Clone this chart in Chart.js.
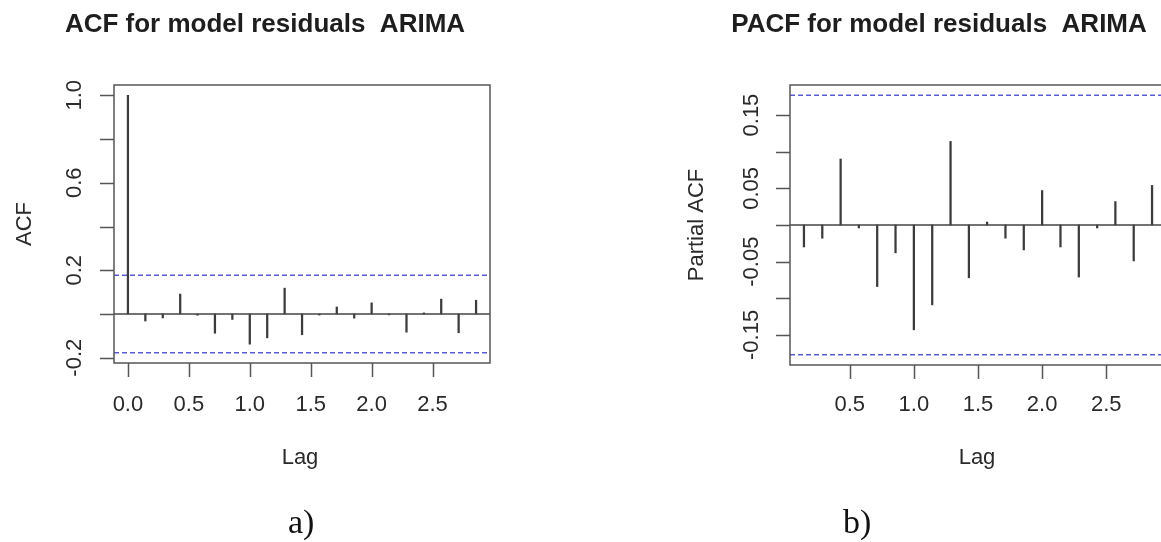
<!DOCTYPE html>
<html>
<head>
<meta charset="utf-8">
<script src="https://cdn.jsdelivr.net/npm/chart.js@4.4.0/dist/chart.umd.min.js"></script>
<style>
  html, body { margin: 0; padding: 0; background: #fff; overflow: hidden; width: 1161px; height: 542px; }
  canvas { position: absolute; top: 0; }
  #acf { left: 0; }
  #pacf { left: 580px; }
  .cap { position: absolute; font-family: "Liberation Serif", "Times New Roman", serif; font-size: 34px; line-height: 1; color: #111; }
</style>
</head>
<body>
<canvas id="acf" width="580" height="542"></canvas>
<canvas id="pacf" width="620" height="542"></canvas>
<div class="cap" style="left:288px; top:505px;">a)</div>
<div class="cap" style="left:843px; top:505px;">b)</div>

<script>
// Residual autocorrelations, lags in years (7 observations per unit)
const acfLags = [0.000, 0.143, 0.286, 0.429, 0.571, 0.714, 0.857, 1.000, 1.143, 1.286, 1.429,
                 1.571, 1.714, 1.857, 2.000, 2.143, 2.286, 2.429, 2.571, 2.714, 2.857];
const acfValues = [1.000, -0.032, -0.018, 0.091, -0.006, -0.088, -0.025, -0.138, -0.109, 0.118, -0.095,
                   -0.005, 0.032, -0.019, 0.051, -0.004, -0.083, 0.005, 0.068, -0.086, 0.063];

const pacfLags = [0.143, 0.286, 0.429, 0.571, 0.714, 0.857, 1.000, 1.143, 1.286, 1.429,
                  1.571, 1.714, 1.857, 2.000, 2.143, 2.286, 2.429, 2.571, 2.714, 2.857];
const pacfValues = [-0.030, -0.018, 0.090, -0.004, -0.084, -0.038, -0.143, -0.109, 0.114, -0.072,
                    0.004, -0.018, -0.034, 0.047, -0.030, -0.071, -0.004, 0.032, -0.049, 0.054];

// 95% white-noise bound
const ciBound = 0.177;

// Axis ticks and the labels printed on them
const acfYTicks = [-0.2, 0.0, 0.2, 0.4, 0.6, 0.8, 1.0];
const acfYLabels = ['-0.2', '0.2', '0.6', '1.0'];
const acfXLabels = ['0.0', '0.5', '1.0', '1.5', '2.0', '2.5'];
const pacfYTicks = [-0.15, -0.10, -0.05, 0.00, 0.05, 0.10, 0.15];
const pacfYLabels = ['-0.15', '-0.05', '0.05', '0.15'];
const pacfXLabels = ['0.5', '1.0', '1.5', '2.0', '2.5'];

const SANS = '"Liberation Sans", Arial, Helvetica, sans-serif';

// Draws the R-style frame: box, tick marks, rotated y labels, titles
const rFrame = {
  id: 'rFrame',
  afterDraw(chart, args, o) {
    const { ctx, chartArea: a } = chart;
    const xs = chart.scales.x, ys = chart.scales.y;
    ctx.save();
    ctx.strokeStyle = '#555';
    ctx.lineWidth = 1.5;
    ctx.strokeRect(a.left, a.top, a.right - a.left, a.bottom - a.top);

    ctx.beginPath();
    o.yTicks.forEach(v => {
      const py = Math.round(ys.getPixelForValue(v)) + 0.5;
      ctx.moveTo(a.left, py); ctx.lineTo(a.left - 14, py);
    });
    o.xLabels.forEach(l => {
      const px = Math.round(xs.getPixelForValue(parseFloat(l))) + 0.5;
      ctx.moveTo(px, a.bottom); ctx.lineTo(px, a.bottom + 14);
    });
    ctx.stroke();

    ctx.fillStyle = '#2a2a2a';
    ctx.font = '22px ' + SANS;
    ctx.textAlign = 'center';
    ctx.textBaseline = 'middle';
    o.xLabels.forEach(l => {
      ctx.fillText(l, xs.getPixelForValue(parseFloat(l)), a.bottom + o.xLabelGap);
    });
    ctx.fillText('Lag', (a.left + a.right) / 2 + o.xTitleShift, a.bottom + o.xTitleGap);

    o.yLabels.forEach(l => {
      ctx.save();
      ctx.translate(a.left - o.yLabelGap, ys.getPixelForValue(parseFloat(l)));
      ctx.rotate(-Math.PI / 2);
      ctx.fillText(l, 0, 0);
      ctx.restore();
    });
    ctx.save();
    ctx.translate(a.left - o.yTitleGap, (a.top + a.bottom) / 2);
    ctx.rotate(-Math.PI / 2);
    ctx.fillText(o.yTitle, 0, 0);
    ctx.restore();

    ctx.fillStyle = '#1e1e1e';
    ctx.font = 'bold 26px ' + SANS;
    ctx.fillText(o.title, (a.left + a.right) / 2 + o.titleShift, 25);
    ctx.restore();
  }
};

function correlogram(id, lags, values, xr, yr, pad, frame) {
  const edge = (y) => [{ x: xr[0], y }, { x: xr[1], y }];
  return new Chart(document.getElementById(id), {
    type: 'bar',
    data: {
      datasets: [
        { type: 'line', data: edge(0), borderColor: '#444', borderWidth: 1.5, pointRadius: 0 },
        { type: 'line', data: edge(ciBound), borderColor: '#5a5ad4', borderWidth: 1.4, borderDash: [5, 3], pointRadius: 0 },
        { type: 'line', data: edge(-ciBound), borderColor: '#5a5ad4', borderWidth: 1.4, borderDash: [5, 3], pointRadius: 0 },
        { type: 'bar', data: lags.map((l, i) => ({ x: l, y: values[i] })),
          backgroundColor: '#3c3c3c', barThickness: 1.6, borderWidth: 0, grouped: false }
      ]
    },
    options: {
      responsive: false,
      animation: false,
      events: [],
      layout: { padding: pad },
      plugins: { legend: { display: false }, tooltip: { enabled: false }, rFrame: frame },
      scales: {
        x: { type: 'linear', min: xr[0], max: xr[1], offset: false, display: false },
        y: { type: 'linear', min: yr[0], max: yr[1], display: false }
      }
    },
    plugins: [rFrame]
  });
}

correlogram('acf', acfLags, acfValues, [-0.1143, 2.9714], [-0.2241, 1.0471],
  { left: 114, top: 85, right: 90, bottom: 179 },
  { title: 'ACF for model residuals  ARIMA', titleShift: -37, yTitle: 'ACF',
    yTicks: acfYTicks, yLabels: acfYLabels, xLabels: acfXLabels,
    xLabelGap: 42, xTitleGap: 95, xTitleShift: -2, yLabelGap: 39, yTitleGap: 89 });

correlogram('pacf', pacfLags, pacfValues, [0.0343, 2.9657], [-0.191, 0.191],
  { left: 210, top: 85, right: 34, bottom: 177 },
  { title: 'PACF for model residuals  ARIMA', titleShift: -39, yTitle: 'Partial ACF',
    yTicks: pacfYTicks, yLabels: pacfYLabels, xLabels: pacfXLabels,
    xLabelGap: 40, xTitleGap: 93, xTitleShift: -1, yLabelGap: 38, yTitleGap: 93 });
</script>
</body>
</html>
